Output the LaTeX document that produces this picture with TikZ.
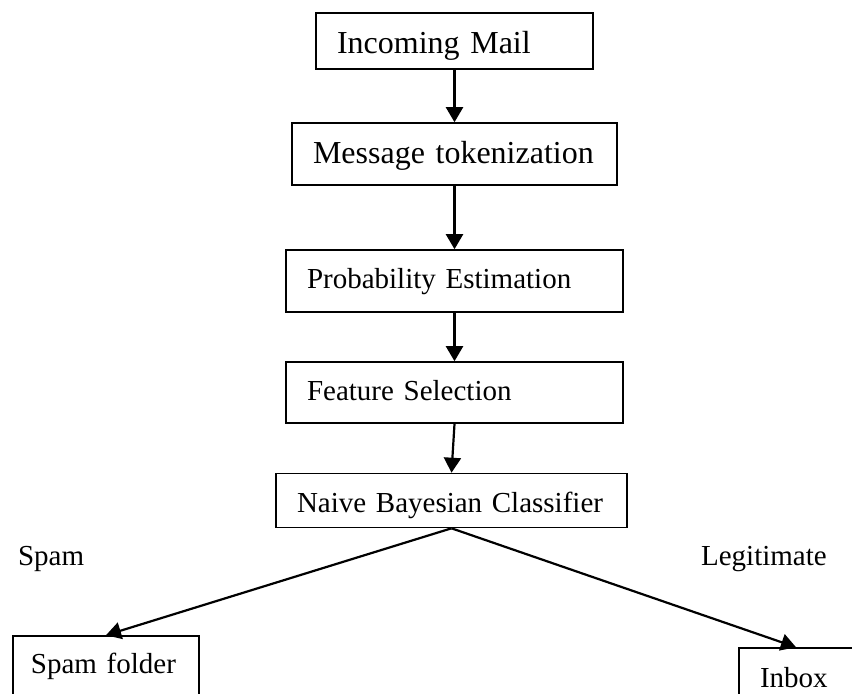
\documentclass[tikz,border=0pt]{standalone}
\usepackage{fontspec}
\setmainfont{Liberation Serif}
\usetikzlibrary{arrows.meta}

\tikzset{
	stagebox/.style={draw, line width=0.8pt, inner xsep=10.5pt, inner ysep=0pt, align=left, text depth=0pt},
	bigtext/.style={font=\fontsize{16}{19}\selectfont},
	smalltext/.style={font=\fontsize{14.5}{17}\selectfont},
	branchlabel/.style={inner sep=0pt, anchor=base west, smalltext}
}

\begin{document}
\begin{tikzpicture}[x=0.5pt, y=-0.5pt, line width=1.1pt, >={Triangle[length=7.5pt, width=8.5pt]}]
		\useasboundingbox (0, 0) rectangle (852, 693);
		\clip (0, 0) rectangle (852, 693);
		
		% pipeline
		\node[stagebox, bigtext, text width=117.5pt, text height=12pt, minimum height=28pt] (mail) at (454.5, 41) {Incoming Mail};
		\node[stagebox, bigtext, text width=141.5pt, text height=9pt, minimum height=31pt] (token) at (454.5, 154) {Message tokenization};
		\node[stagebox, smalltext, text width=147.5pt, text height=7.5pt, minimum height=31pt] (prob) at (454.5, 281) {Probability Estimation};
		\node[stagebox, smalltext, text width=147.5pt, text height=7.5pt, minimum height=30.5pt] (feat) at (454.5, 392.5) {Feature Selection};
		\node[stagebox, smalltext, text width=154.5pt, text height=11.5pt, minimum height=27pt] (naive) at (451.5, 500.5) {Naive Bayesian Classifier};
		
		% outcomes
		\node[stagebox, smalltext, inner xsep=9pt, text width=75pt, text height=7pt, minimum height=30pt] (spamf) at (106, 666) {Spam folder};
		\node[stagebox, smalltext, text width=36pt, text height=9pt, minimum height=30pt] (inbox) at (796, 678) {Inbox};
		
		\node[branchlabel] (spamlbl) at (17, 565) {Spam};
		\node[branchlabel] (legitlbl) at (700, 565) {Legitimate};
		
		\draw[->] (mail.south) -- (token.north);
		\draw[->] (token.south) -- (prob.north);
		\draw[->] (prob.south) -- (feat.north);
		\draw[->] (feat.south) -- (naive.north);
		\draw[->] (naive.south) -- (spamf.north);
		\draw[->] (naive.south) -- (inbox.north);
	\end{tikzpicture}
\end{document}
